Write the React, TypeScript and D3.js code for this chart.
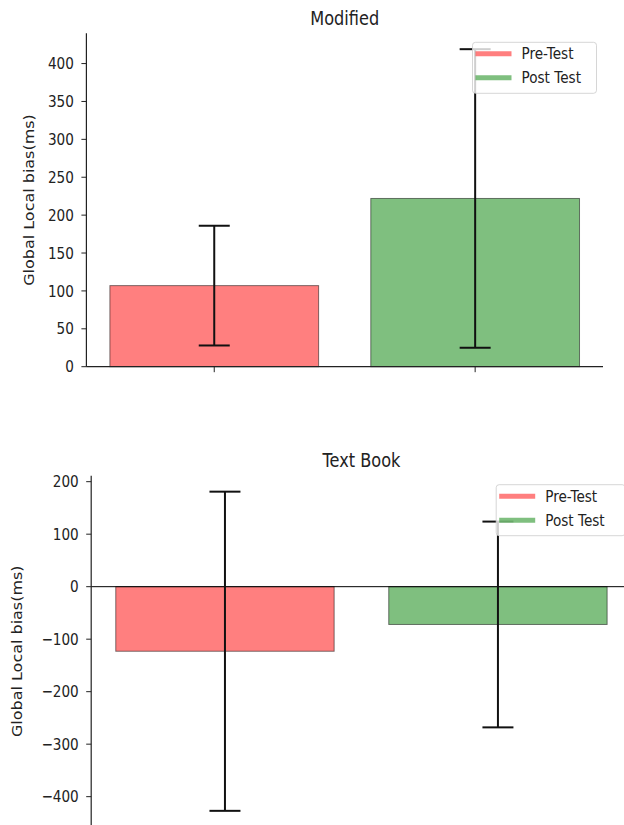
import * as d3 from "d3";

const categories = ["Pre-Test", "Post Test"];
const barColors = ["#ff0000", "#008000"];
const modifiedMeans = [107, 222];
const modifiedErrors = [79, 197];
const textBookMeans = [-123, -72];
const textBookErrors = [304, 196];
const modifiedTicks = [0, 50, 100, 150, 200, 250, 300, 350, 400];
const textBookTicks = [-400, -300, -200, -100, 0, 100, 200];

const W = 624;
const H = 825;
// the picture is squeezed horizontally, so text is too
const SQ = 0.85;
const FONT = "DejaVu Sans, sans-serif";

const fmt = (v: number) => (v < 0 ? "\u2212" + Math.abs(v) : String(v));

function Txt({ x, y, size, anchor = "start", rotate = false, children }: any) {
  const t = `translate(${x},${y}) scale(${SQ},1)` + (rotate ? " rotate(-90)" : "");
  return (
    <text transform={t} fontSize={size} fontFamily={FONT} textAnchor={anchor} fill="#222">
      {children}
    </text>
  );
}

function Panel({ title, means, errors, ticks, left, right, top, bottom, labelX, legendW, zeroLine }: any) {
  // autoscale the way matplotlib does (5% margin, 0 sticky for bars)
  let lo = d3.min(means.map((m: number, i: number) => Math.min(0, m - errors[i]))) as number;
  let hi = d3.max(means.map((m: number, i: number) => Math.max(0, m + errors[i]))) as number;
  const pad = (hi - lo) * 0.05;
  if (lo < 0) lo -= pad;
  hi += pad;

  const y = d3.scaleLinear().domain([lo, hi]).range([bottom, top]);
  const x = d3.scaleLinear().domain([-0.49, 1.49]).range([left, right]);
  const bw = x(0.8) - x(0);
  const cap = 15.5;

  const lx = right - 6.5 - legendW;
  const ly = top + 9;

  return (
    <g>
      <Txt x={(left + right) / 2} y={top - 8.5} size={19} anchor="middle">{title}</Txt>

      {means.map((m: number, i: number) => (
        <rect
          key={i}
          x={x(i) - bw / 2}
          y={Math.min(y(m), y(0))}
          width={bw}
          height={Math.abs(y(m) - y(0))}
          fill={barColors[i]}
          fillOpacity={0.5}
          stroke="#000"
          strokeOpacity={0.5}
          strokeWidth={1}
        />
      ))}

      {zeroLine && <line x1={left} x2={right} y1={y(0)} y2={y(0)} stroke="#000" strokeWidth={1} />}

      {means.map((m: number, i: number) => (
        <g key={i} stroke="#111" strokeWidth={2}>
          <line x1={x(i)} x2={x(i)} y1={y(m - errors[i])} y2={y(m + errors[i])} />
          <line x1={x(i) - cap} x2={x(i) + cap} y1={y(m - errors[i])} y2={y(m - errors[i])} />
          <line x1={x(i) - cap} x2={x(i) + cap} y1={y(m + errors[i])} y2={y(m + errors[i])} />
        </g>
      ))}

      <line x1={left} x2={left} y1={top} y2={bottom} stroke="#222" strokeWidth={1.2} />
      <line x1={left} x2={right} y1={bottom} y2={bottom} stroke="#222" strokeWidth={1.2} />

      {ticks.map((t: number) => (
        <g key={t}>
          <line x1={left - 5} x2={left} y1={y(t)} y2={y(t)} stroke="#222" strokeWidth={1} />
          <Txt x={left - 12.5} y={y(t) + 5.6} size={16} anchor="end">{fmt(t)}</Txt>
        </g>
      ))}
      {categories.map((c, i) => (
        <line key={c} x1={x(i)} x2={x(i)} y1={bottom} y2={bottom + 5.5} stroke="#222" strokeWidth={1} />
      ))}

      <Txt x={labelX} y={(top + bottom) / 2} size={16} anchor="middle" rotate>
        Global Local bias(ms)
      </Txt>

      <rect x={lx} y={ly} width={legendW} height={51} rx={3} fill="#fff" fillOpacity={0.8} stroke="#ccc" strokeOpacity={0.8} />
      {categories.map((c, i) => (
        <g key={c}>
          <line
            x1={lx + 3}
            x2={lx + 39}
            y1={ly + 11.5 + i * 24}
            y2={ly + 11.5 + i * 24}
            stroke={barColors[i]}
            strokeOpacity={0.5}
            strokeWidth={5}
          />
          <Txt x={lx + 49} y={ly + 11.5 + i * 24 + 5.6} size={16}>{c}</Txt>
        </g>
      ))}
    </g>
  );
}

export default function App() {
  return (
    <svg width={W} height={H} style={{ position: "absolute", left: 0, top: 0, background: "#fff" }}>
      <rect width={W} height={H} fill="#fff" />
      <Panel
        title="Modified"
        means={modifiedMeans}
        errors={modifiedErrors}
        ticks={modifiedTicks}
        left={86.4}
        right={603}
        top={33.3}
        bottom={366.7}
        labelX={34}
        legendW={124}
        zeroLine={false}
      />
      <Panel
        title="Text Book"
        means={textBookMeans}
        errors={textBookErrors}
        ticks={textBookTicks}
        left={91.2}
        right={631.7}
        top={475.7}
        bottom={826.8}
        labelX={22}
        legendW={129}
        zeroLine={true}
      />
    </svg>
  );
}
